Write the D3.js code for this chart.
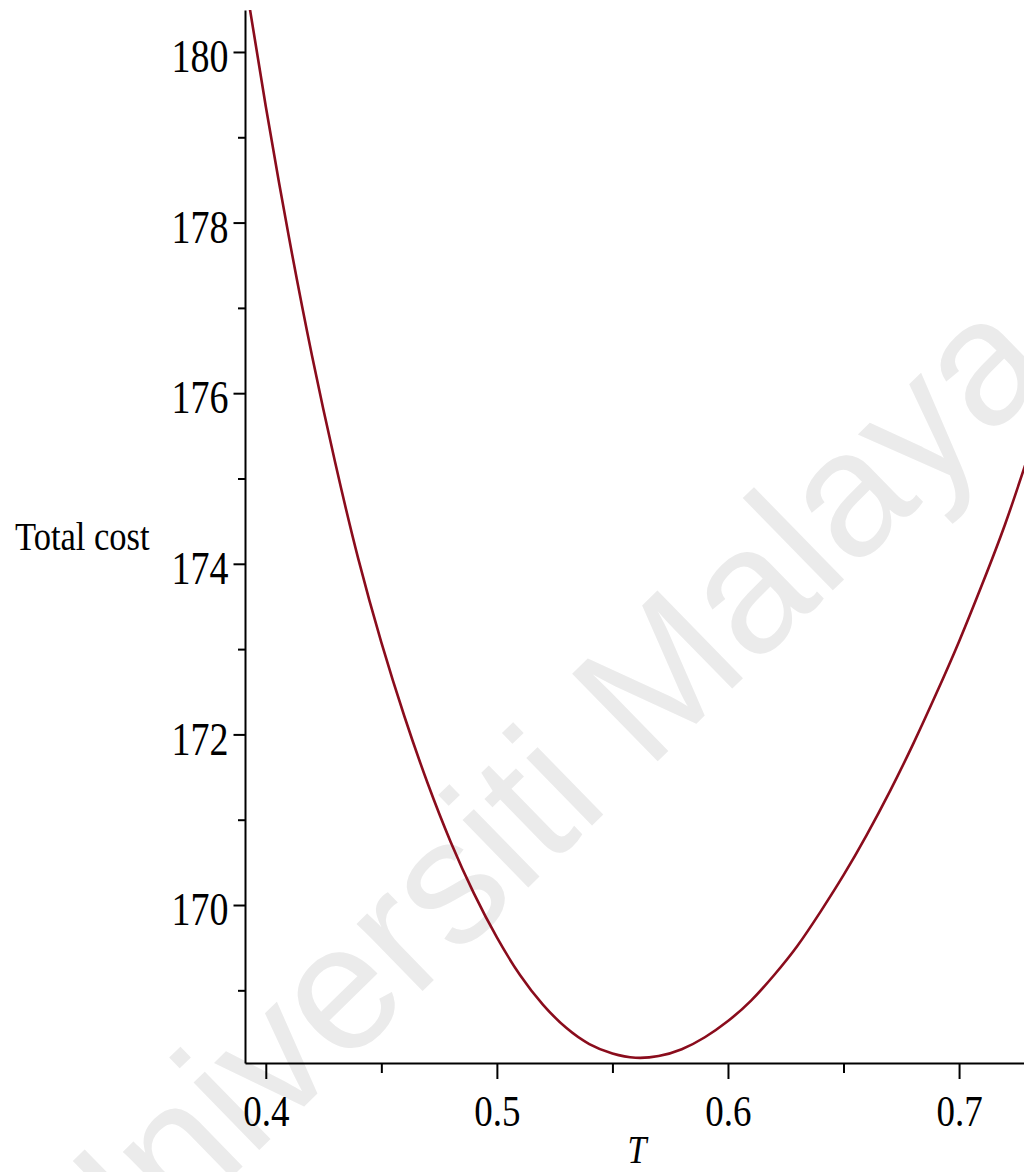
<!DOCTYPE html>
<html>
<head>
<meta charset="utf-8">
<script src="https://cdn.jsdelivr.net/npm/d3@7"></script>
<style>
  html, body { margin: 0; padding: 0; background: #fff; }
  svg { display: block; }
</style>
</head>
<body>
<svg id="chart" width="1024" height="1172"></svg>
<script>
// ---- data (estimated) ----
const T_values = [0.392, 0.40, 0.41, 0.42, 0.43, 0.44, 0.45, 0.46, 0.47, 0.48, 0.49, 0.50, 0.51, 0.52, 0.53, 0.54, 0.55, 0.56, 0.57, 0.58, 0.59, 0.60, 0.61, 0.62, 0.63, 0.64, 0.65, 0.66, 0.67, 0.68, 0.69, 0.70, 0.71, 0.72, 0.73];
const cost_values = [180.69, 179.36, 177.83, 176.44, 175.19, 174.06, 173.08, 172.21, 171.43, 170.74, 170.14, 169.62, 169.18, 168.83, 168.56, 168.37, 168.26, 168.21, 168.23, 168.31, 168.45, 168.64, 168.88, 169.18, 169.52, 169.92, 170.35, 170.82, 171.33, 171.88, 172.47, 173.09, 173.76, 174.47, 175.27];
const xMajorTicks = [0.4, 0.5, 0.6, 0.7];
const xMinorTicks = [0.45, 0.55, 0.65];
const yMajorTicks = [170, 172, 174, 176, 178, 180];
const yMinorTicks = [169, 171, 173, 175, 177, 179];
const xTitle = "T";
const yTitle = "Total cost";
const watermark = "Universiti Malaya";

const svg = d3.select("#chart");
const serif = "'Liberation Serif', 'Times New Roman', serif";

const x = d3.scaleLinear().domain([0.391, 0.7281]).range([245, 1024]);
const y = d3.scaleLinear().domain([168.148, 180.492]).range([1063, 10]);

// watermark
svg.append("text")
  .attr("transform", "translate(530,800) rotate(-44.3)")
  .attr("text-anchor", "middle")
  .attr("dominant-baseline", "central")
  .attr("font-family", "'Liberation Sans', Arial, sans-serif")
  .attr("font-size", 178)
  .attr("fill", "#ebebeb")
  .text(watermark);

// clip
svg.append("clipPath").attr("id", "plotclip")
  .append("rect").attr("x", 245).attr("y", 10).attr("width", 779).attr("height", 1053);

// curve
const data = T_values.map((t, i) => ({t, c: cost_values[i]}));
svg.append("path")
  .datum(data)
  .attr("clip-path", "url(#plotclip)")
  .attr("fill", "none")
  .attr("stroke", "#8a0c1c")
  .attr("stroke-width", 2.6)
  .attr("d", d3.line().x(d => x(d.t)).y(d => y(d.c)).curve(d3.curveNatural));

// y axis
const yAxisG = svg.append("g").attr("transform", "translate(245,0)");
yAxisG.call(d3.axisLeft(y).tickValues(yMajorTicks).tickSize(11.5).tickSizeOuter(0).tickFormat(d3.format("d")));
yAxisG.append("g").call(d3.axisLeft(y).tickValues(yMinorTicks).tickSize(7).tickSizeOuter(0).tickFormat(""))
  .select(".domain").remove();
yAxisG.selectAll(".domain, line").attr("stroke", "#000").attr("stroke-width", 2);
yAxisG.selectAll(".tick text")
  .attr("font-family", serif).attr("font-size", 38).attr("fill", "#000")
  .attr("x", -16.5).attr("dy", null).attr("y", 16.4)
  .attr("transform", "scale(1,1.2)");

// x axis
const xAxisG = svg.append("g").attr("transform", "translate(0,1063)");
xAxisG.call(d3.axisBottom(x).tickValues(xMajorTicks).tickSize(16).tickSizeOuter(0).tickFormat(d3.format(".1f")));
xAxisG.append("g").call(d3.axisBottom(x).tickValues(xMinorTicks).tickSize(10).tickSizeOuter(0).tickFormat(""))
  .select(".domain").remove();
xAxisG.selectAll(".domain, line").attr("stroke", "#000").attr("stroke-width", 2);
xAxisG.selectAll(".tick text")
  .attr("font-family", serif).attr("font-size", 37).attr("fill", "#000")
  .attr("dy", null).attr("y", 52.8)
  .attr("transform", "scale(1,1.2)");

// titles
svg.append("g").attr("transform", "translate(15,550) scale(1,1.17)")
  .append("text")
  .attr("font-family", serif).attr("font-size", 34.5).attr("fill", "#000")
  .text(yTitle);

svg.append("g").attr("transform", "translate(637,1163) scale(1,1.15)")
  .append("text")
  .attr("text-anchor", "middle")
  .attr("font-family", serif).attr("font-style", "italic").attr("font-size", 34).attr("fill", "#000")
  .text(xTitle);
</script>
</body>
</html>
